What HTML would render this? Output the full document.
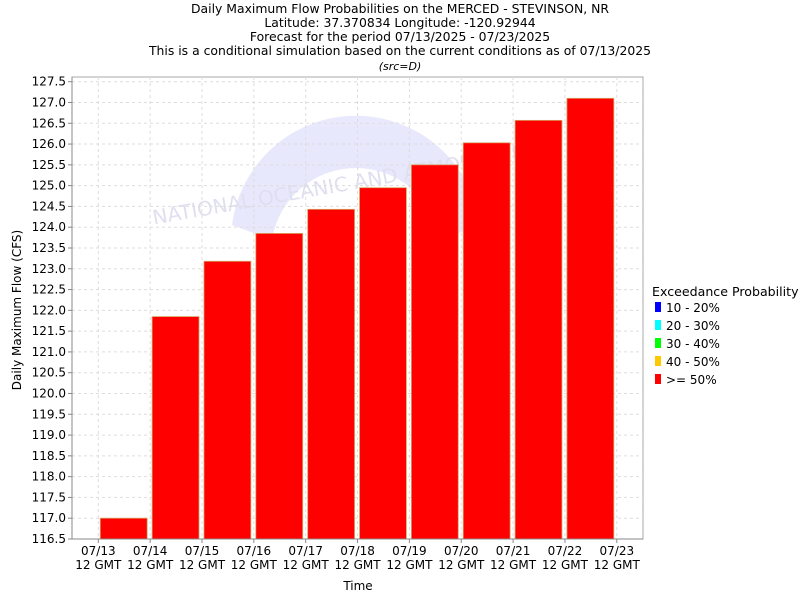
<!DOCTYPE html>
<html><head><meta charset="utf-8"><style>
body{margin:0;background:#fff;font-family:"DejaVu Sans","Liberation Sans",sans-serif;}
svg text{font-family:"DejaVu Sans","Liberation Sans",sans-serif;}
</style></head><body>
<svg id="chart" width="800" height="600" xmlns="http://www.w3.org/2000/svg">
<g font-size="12.4" text-anchor="middle" fill="#000">
<text x="400" y="13">Daily Maximum Flow Probabilities on the MERCED - STEVINSON, NR</text>
<text x="400" y="27">Latitude: 37.370834 Longitude: -120.92944</text>
<text x="400" y="41">Forecast for the period 07/13/2025 - 07/23/2025</text>
<text x="400" y="55">This is a conditional simulation based on the current conditions as of 07/13/2025</text>
<text x="400" y="70" font-size="11" font-style="italic">(src=D)</text>
</g>
<g opacity="0.15">
<path d="M232,225 A125,125 0 0 1 480,225 L440,240 A85,85 0 0 0 272,240 Z" fill="#6a6af0"/>
<text x="350" y="190" font-size="20" fill="#3030a0" text-anchor="middle" transform="rotate(-10 350 190)">NATIONAL OCEANIC AND ATMOSPHERIC</text>
</g>
<rect x="72" y="77" width="571" height="462" fill="none" stroke="#aaa"/>
<g id="grid"></g><g id="bars"></g><g id="axes"></g>
<text font-size="12" text-anchor="middle" transform="translate(21,310) rotate(-90)">Daily Maximum Flow (CFS)</text>
<text x="358" y="590" font-size="12" text-anchor="middle">Time</text>
<g font-size="12">
<text x="652" y="296" font-size="12.6">Exceedance Probability</text>
<rect x="655" y="302" width="6" height="10" fill="#0000ff"/><text x="666" y="312">10 - 20%</text>
<rect x="655" y="320" width="6" height="10" fill="#00ffff"/><text x="666" y="330">20 - 30%</text>
<rect x="655" y="338" width="6" height="10" fill="#00ff00"/><text x="666" y="348">30 - 40%</text>
<rect x="655" y="356" width="6" height="10" fill="#ffc800"/><text x="666" y="366">40 - 50%</text>
<rect x="655" y="374" width="6" height="10" fill="#ff0000"/><text x="666" y="384">&gt;= 50%</text>
</g>
</svg>
<script>
const categories=["07/13","07/14","07/15","07/16","07/17","07/18","07/19","07/20","07/21","07/22"];
const values=[117.0,121.85,123.18,123.85,124.43,124.95,125.5,126.03,126.57,127.1];
const tickDates=["07/13","07/14","07/15","07/16","07/17","07/18","07/19","07/20","07/21","07/22","07/23"];
const yTicks=[116.5,117.0,117.5,118.0,118.5,119.0,119.5,120.0,120.5,121.0,121.5,122.0,122.5,123.0,123.5,124.0,124.5,125.0,125.5,126.0,126.5,127.0,127.5];
const NS="http://www.w3.org/2000/svg";
const yS=v=>539-(v-116.5)*(457.3/11);
const xS=i=>98.3+i*51.85;
function mk(t,a,p){const e=document.createElementNS(NS,t);for(const k in a)e.setAttribute(k,a[k]);p.appendChild(e);return e;}
const grid=document.getElementById('grid'),bars=document.getElementById('bars'),axes=document.getElementById('axes');
yTicks.forEach(v=>{
 const y=yS(v);
 const g=mk('line',{x1:72,x2:643,y1:y,y2:y,stroke:'#ddd','stroke-dasharray':'3,3'},grid);
 
 
 mk('line',{x1:68,x2:72,y1:y,y2:y,stroke:'#888'},axes);
 const t=mk('text',{x:66,y:y+4,'font-size':12,'text-anchor':'end'},axes);t.textContent=v.toFixed(1);
 
 
});
tickDates.forEach((d,i)=>{
 const x=xS(i);
 const g=mk('line',{x1:x,x2:x,y1:77,y2:539,stroke:'#ddd','stroke-dasharray':'3,3'},grid);
 
 
 mk('line',{x1:x,x2:x,y1:539,y2:543,stroke:'#888'},axes);
 const t=mk('text',{x:x,y:555,'font-size':12,'text-anchor':'middle'},axes);t.textContent=d;
 
 
 const t2=mk('text',{x:x,y:569,'font-size':12,'text-anchor':'middle'},axes);t2.textContent='12 GMT';
 
 
});
mk('line',{x1:72,x2:72,y1:77,y2:539,stroke:'#888'},axes);
mk('line',{x1:72,x2:643,y1:539,y2:539,stroke:'#888'},axes);
values.forEach((v,i)=>{
 const x0=xS(i)+2,x1=xS(i+1)-3,y=yS(v);
 const r=mk('rect',{x:x0,y:y,width:x1-x0,height:539-y,fill:'#ff0000',stroke:'#d8a060','stroke-width':0.8},bars);
 
 
});
</script>
</body></html>
